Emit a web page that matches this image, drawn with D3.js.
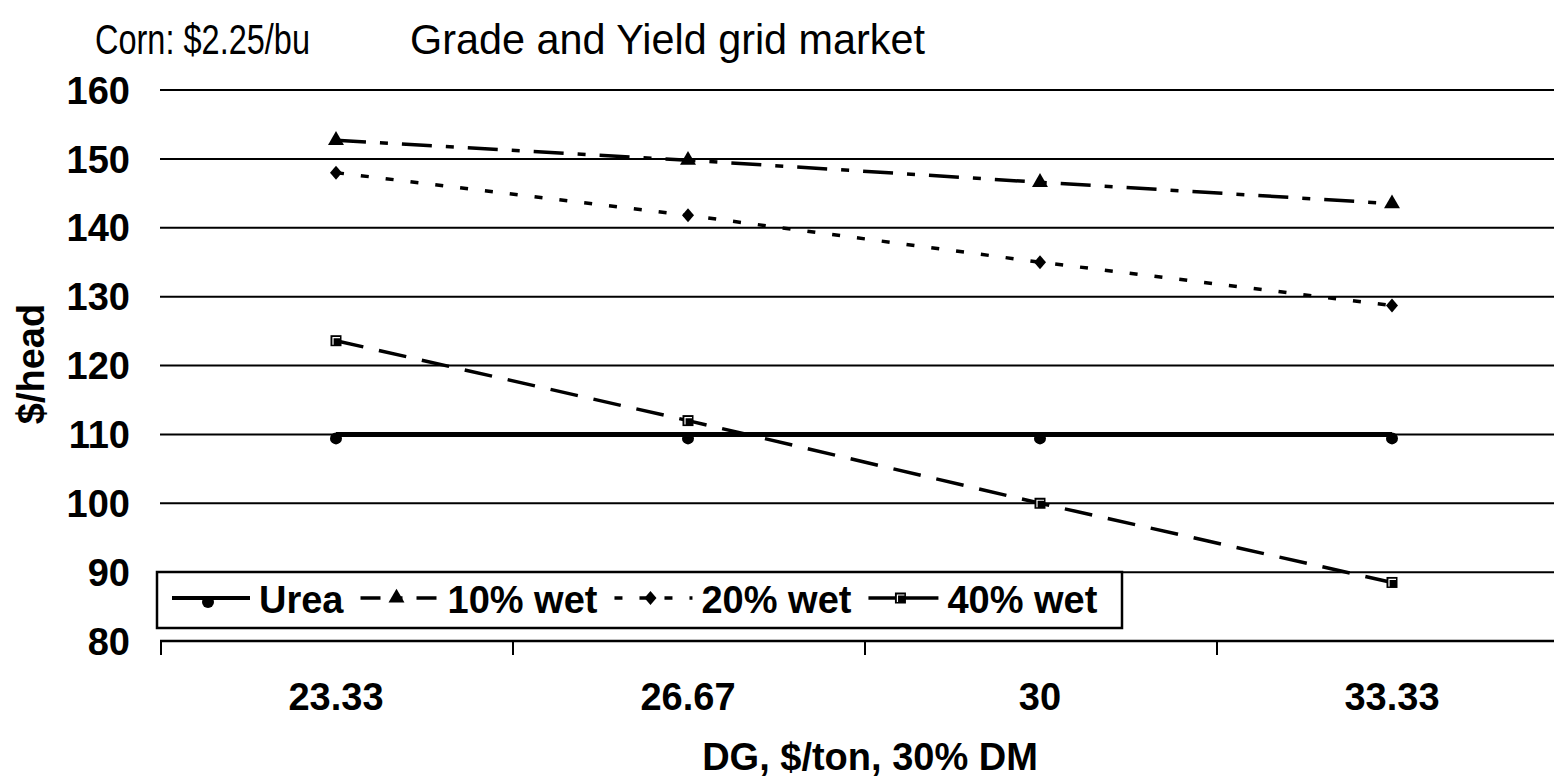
<!DOCTYPE html>
<html><head><meta charset="utf-8">
<script src="https://cdn.jsdelivr.net/npm/d3@7"></script>
<style>
html,body{margin:0;padding:0;background:#fff;}
svg{display:block;font-family:Arial,"Liberation Sans",sans-serif;}
</style></head>
<body>
<svg id="c" width="1554" height="780"></svg>
<script>
const categories = ["23.33","26.67","30","33.33"];
const urea   = [110, 110, 110, 110];
const wet10  = [152.7, 149.8, 146.6, 143.5];
const wet20  = [148.0, 141.8, 135.0, 128.7];
const wet40  = [123.6, 112.0, 100.0, 88.5];
const yTicks = [80, 90, 100, 110, 120, 130, 140, 150, 160];
const seriesNames = ["Urea", "10% wet", "20% wet", "40% wet"];

(function () {
const series = [
  {name: seriesNames[0], values: urea,  dash: null,          width: 5,   marker: "circle"},
  {name: seriesNames[1], values: wet10, dash: "30,14,8,14",  width: 3.5, marker: "triangle"},
  {name: seriesNames[2], values: wet20, dash: "8,17",        width: 3.5, marker: "diamond"},
  {name: seriesNames[3], values: wet40, dash: "28,16",       width: 3.5, marker: "square"}
];

const svg = d3.select("#c");
const mLeft = 160, mRight = 1568, mTop = 90, mBottom = 641;

const x = d3.scaleBand().domain(categories).range([mLeft, mRight]);
const y = d3.scaleLinear().domain([80, 160]).range([mBottom, mTop]);

// gridlines
svg.append("g").selectAll("line").data(yTicks.filter(d => d > 80)).join("line")
  .attr("x1", mLeft).attr("x2", 1554)
  .attr("y1", d => y(d)).attr("y2", d => y(d))
  .attr("stroke", "#000").attr("stroke-width", 2);

// y labels
svg.append("g").selectAll("text").data(yTicks).join("text")
  .attr("x", 130).attr("y", d => y(d)).attr("dy", "0.36em")
  .attr("text-anchor", "end")
  .attr("font-size", 38).attr("font-weight", "bold")
  .text(d => d);

// x axis
const xAxis = d3.axisBottom(x).tickSize(0).tickFormat("");
const gx = svg.append("g").attr("transform", `translate(0,${mBottom})`).call(xAxis);
gx.select(".domain").attr("stroke", "#000").attr("stroke-width", 2.5).attr("d", `M${mLeft},0H1554`);
const bounds = categories.map(c => x(c));
svg.append("g").selectAll("line").data(bounds).join("line")
  .attr("x1", d => d + 1).attr("x2", d => d + 1)
  .attr("y1", mBottom).attr("y2", mBottom + 14)
  .attr("stroke", "#000").attr("stroke-width", 2);

svg.append("g").selectAll("text").data(categories).join("text")
  .attr("x", d => x(d) + x.bandwidth() / 2).attr("y", 710)
  .attr("text-anchor", "middle")
  .attr("font-size", 38).attr("font-weight", "bold")
  .text(d => d);

// axis titles
svg.append("text").attr("x", 870).attr("y", 770).attr("text-anchor", "middle")
  .attr("font-size", 38).attr("font-weight", "bold").text("DG, $/ton, 30% DM");
svg.append("text").attr("transform", "translate(44,364) rotate(-90)")
  .attr("text-anchor", "middle")
  .attr("font-size", 38).attr("font-weight", "bold").text("$/head");

// titles
svg.append("text").attr("x", 95).attr("y", 54).attr("font-size", 42)
  .attr("textLength", 215).attr("lengthAdjust", "spacingAndGlyphs").text("Corn: $2.25/bu");
svg.append("text").attr("x", 410).attr("y", 54).attr("font-size", 42)
  .attr("textLength", 515).attr("lengthAdjust", "spacingAndGlyphs").text("Grade and Yield grid market");

function drawMarker(g, type, cx, cy) {
  if (type === "circle") {
    g.append("circle").attr("cx", cx).attr("cy", cy + 4).attr("r", 6).attr("fill", "#000");
  } else if (type === "triangle") {
    g.append("path").attr("d", d3.symbol(d3.symbolTriangle, 110)()).attr("transform", `translate(${cx},${cy})`).attr("fill", "#000");
  } else if (type === "diamond") {
    g.append("path").attr("d", `M0,-7L6,0L0,7L-6,0Z`).attr("transform", `translate(${cx},${cy})`).attr("fill", "#000");
  } else if (type === "square") {
    g.append("rect").attr("x", cx - 5.5).attr("y", cy - 5.5).attr("width", 11).attr("height", 11).attr("fill", "#000");
    g.append("path").attr("d", `M${cx - 3},${cy + 4}V${cy - 3}H${cx + 4}`).attr("fill", "none").attr("stroke", "#fff").attr("stroke-width", 1.2);
  }
}

const line = d3.line().x((d, i) => x(categories[i]) + x.bandwidth() / 2).y(d => y(d));
series.forEach(s => {
  const g = svg.append("g");
  g.append("path").attr("d", line(s.values)).attr("fill", "none")
    .attr("stroke", "#000").attr("stroke-width", s.width)
    .attr("stroke-dasharray", s.dash);
  s.values.forEach((v, i) => drawMarker(g, s.marker, x(categories[i]) + x.bandwidth() / 2, y(v)));
});

// legend
const lg = svg.append("g");
lg.append("rect").attr("x", 157).attr("y", 572).attr("width", 965).attr("height", 56)
  .attr("fill", "#fff").attr("stroke", "#000").attr("stroke-width", 2.5);
let cx = 172;
const ly = 598;
const legendDash = [null, "20,14,8,14", "8,17", null];
series.forEach((s, i) => {
  const w = i === 3 ? 70 : 78;
  lg.append("line").attr("x1", cx).attr("x2", cx + w).attr("y1", ly).attr("y2", ly)
    .attr("stroke", "#000").attr("stroke-width", i === 0 ? 4 : 3.5).attr("stroke-dasharray", legendDash[i]);
  drawMarker(lg, s.marker, cx + w / 2 - 3, ly);
  const t = lg.append("text").attr("x", cx + w + 9).attr("y", 613)
    .attr("font-size", 38).attr("font-weight", "bold").text(s.name);
  cx = cx + w + 9 + t.node().getComputedTextLength() + 17;
});
})();
</script>
</body></html>
